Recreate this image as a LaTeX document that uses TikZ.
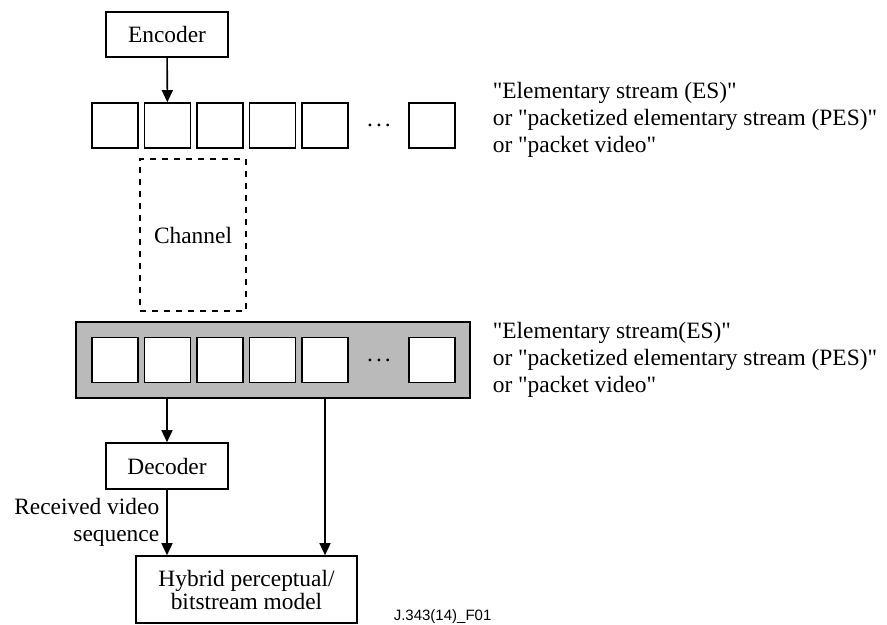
\documentclass[tikz,border=0pt]{standalone}
\usepackage{fontspec}
\setmainfont{Liberation Serif}
\newfontfamily\figfont{Liberation Sans}
\usetikzlibrary{positioning,arrows.meta}

\newcommand{\qt}{\textquotedbl}

\tikzset{
  blk/.style={draw, rectangle, minimum width=61pt, minimum height=22.5pt, inner sep=0pt},
  pkt/.style={draw, fill=white, rectangle, minimum width=23pt, minimum height=22.5pt, inner sep=0pt},
  arr/.style={-{Triangle[length=6pt,width=5.5pt]}},
}

\begin{document}
\begin{tikzpicture}[x=0.5pt, y=-0.5pt, line width=0.8pt, font=\fontsize{11.7}{13.5}\selectfont, node distance=26.25pt]
    \useasboundingbox (0,0) rectangle (887,625);

    % Nodes
    \node [blk] (enc) at (167,34.5) {Encoder};
    \node [pkt] (a1) at (115,125.5) {};
    \node [pkt, right of=a1] (a2) {};
    \node [pkt, right of=a2] (a3) {};
    \node [pkt, right of=a3] (a4) {};
    \node [pkt, right of=a4] (a5) {};
    \node [right of=a5, node distance=27pt] (adots) {.\hspace{1.5pt}.\hspace{1.5pt}.};
    \node [pkt, right of=adots, node distance=26.5pt] (a6) {};

    \node [draw, dashed, minimum width=53pt, minimum height=76pt] (chan) at (193,235) {Channel};

    \node [draw, fill=black!27, minimum width=197pt, minimum height=38pt] (buf) at (273,360) {};
    \node [pkt] (b1) at (115,360) {};
    \node [pkt, right of=b1] (b2) {};
    \node [pkt, right of=b2] (b3) {};
    \node [pkt, right of=b3] (b4) {};
    \node [pkt, right of=b4] (b5) {};
    \node [right of=b5, node distance=27pt] (bdots) {.\hspace{1.5pt}.\hspace{1.5pt}.};
    \node [pkt, right of=bdots, node distance=26.5pt] (b6) {};

    \node [blk, minimum height=23pt] (dec) at (167,466) {Decoder};
    \node [blk, minimum width=110.5pt, minimum height=33.5pt, align=center, font=\fontsize{11.7}{11.5}\selectfont] (hyb) at (246.5,589.5) {Hybrid perceptual/\\bitstream model};

    \node [anchor=west, align=left, inner sep=0pt] (es1) at (492,120) {\qt Elementary stream (ES)\qt\\or \qt packetized elementary stream (PES)\qt\\or \qt packet video\qt};
    \node [anchor=west, align=left, inner sep=0pt] (es2) at (492,360) {\qt Elementary stream(ES)\qt\\or \qt packetized elementary stream (PES)\qt\\or \qt packet video\qt};
    \node [anchor=west, inner sep=0pt, font=\figfont\fontsize{7.5}{9}\selectfont] (fig) at (393,617) {J.343(14)\_F01};

    % Arrows
    \draw[arr] (enc) -- (a2);
    \draw[arr] (buf.south -| dec) -- (dec);
    \draw[arr] (buf.south -| b5) -- (b5 |- hyb.north);
    \draw[arr] (dec) -- node[left, align=right, inner sep=3.5pt] {Received video\\sequence} (dec |- hyb.north);

\end{tikzpicture}
\end{document}
